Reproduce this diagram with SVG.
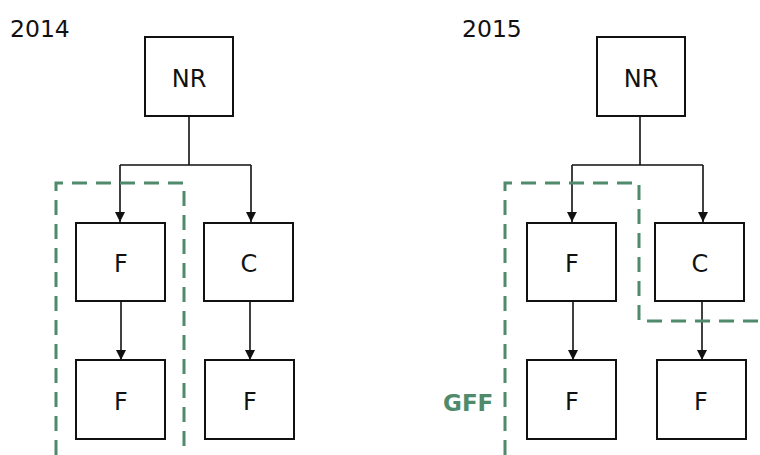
<svg xmlns="http://www.w3.org/2000/svg" width="760" height="455" viewBox="0 0 760 455">
<style>
.box{fill:#fff;stroke:#111;stroke-width:2}
.lbl{font-family:"DejaVu Sans",Verdana,sans-serif;font-size:24px;fill:#111;text-anchor:middle}
.year{font-family:"DejaVu Sans",Verdana,sans-serif;font-size:23.5px;fill:#111}
.con{fill:none;stroke:#111;stroke-width:1.6}
.grp{fill:none;stroke:#4f8a6b;stroke-width:3;stroke-dasharray:15 9}
.gff{font-family:"DejaVu Sans",Verdana,sans-serif;font-size:23px;font-weight:bold;fill:#4f8a6b}
</style>
<defs>
<marker id="arr" viewBox="0 0 10 10" refX="10" refY="5" markerWidth="10" markerHeight="10" markerUnits="userSpaceOnUse" orient="auto">
<path d="M0,0 L10,5 L0,10 Z" fill="#111"/>
</marker>
</defs>
<text class="year" x="10" y="37">2014</text>
<text class="year" x="462" y="37">2015</text>
<g id="connectors">
<path class="con" d="M189,116 V165 M120,165 H251"/>
<path class="con" d="M120,165 V222" marker-end="url(#arr)"/>
<path class="con" d="M251,165 V222" marker-end="url(#arr)"/>
<path class="con" d="M121,301 V360" marker-end="url(#arr)"/>
<path class="con" d="M250,301 V360" marker-end="url(#arr)"/>
<path class="con" d="M640,116 V165 M572,165 H703"/>
<path class="con" d="M572,165 V222" marker-end="url(#arr)"/>
<path class="con" d="M703,165 V222" marker-end="url(#arr)"/>
<path class="con" d="M573,301 V360" marker-end="url(#arr)"/>
<path class="con" d="M702,301 V360" marker-end="url(#arr)"/>
</g>
<g id="nr2014"><rect class="box" x="145" y="37" width="88" height="79"/><text class="lbl" x="189" y="87">NR</text></g>
<g id="f2014a"><rect class="box" x="76" y="223" width="89" height="78"/><text class="lbl" x="121" y="272">F</text></g>
<g id="c2014"><rect class="box" x="204" y="223" width="89" height="78"/><text class="lbl" x="249" y="272">C</text></g>
<g id="f2014b"><rect class="box" x="76" y="360" width="89" height="79"/><text class="lbl" x="121" y="410">F</text></g>
<g id="f2014c"><rect class="box" x="205" y="360" width="89" height="79"/><text class="lbl" x="250" y="410">F</text></g>
<g id="nr2015"><rect class="box" x="597" y="37" width="88" height="79"/><text class="lbl" x="641" y="87">NR</text></g>
<g id="f2015a"><rect class="box" x="527" y="223" width="89" height="78"/><text class="lbl" x="572" y="272">F</text></g>
<g id="c2015"><rect class="box" x="655" y="223" width="89" height="78"/><text class="lbl" x="700" y="272">C</text></g>
<g id="f2015b"><rect class="box" x="527" y="360" width="89" height="79"/><text class="lbl" x="572" y="410">F</text></g>
<g id="f2015c"><rect class="box" x="657" y="360" width="89" height="79"/><text class="lbl" x="701" y="410">F</text></g>
<g id="groups">
<path class="grp" d="M56,455 V183 H184 V455"/>
<path class="grp" d="M505,455 V183 H639 V321 H760"/>
<text class="gff" x="443" y="411">GFF</text>
</g>
</svg>
